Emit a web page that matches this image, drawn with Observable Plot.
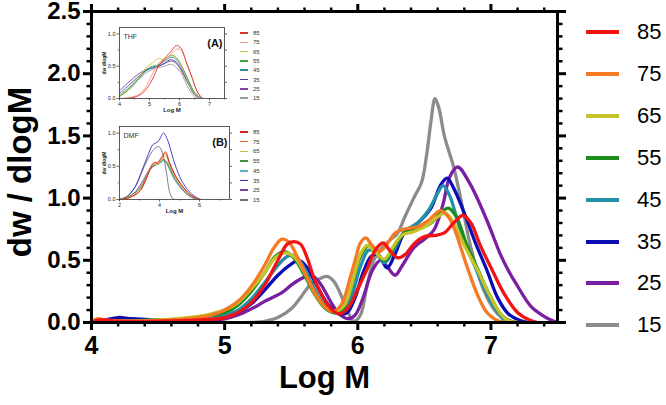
<!DOCTYPE html>
<html><head><meta charset="utf-8">
<script src="https://cdn.jsdelivr.net/npm/d3@7"></script>
<script src="https://cdn.jsdelivr.net/npm/@observablehq/plot@0.6"></script>
<style>
body{margin:0;background:#fff;font-family:"Liberation Sans",Arial,sans-serif;}
#wrap{position:relative;width:666px;height:405px;overflow:hidden;background:#fff;}
.abs{position:absolute;}
.leg{position:absolute;display:flex;align-items:center;white-space:nowrap;color:#000;}
#ytitle{position:absolute;left:19px;top:172px;transform:translate(-50%,-50%) rotate(-90deg);font-size:33px;font-weight:bold;white-space:nowrap;color:#000;line-height:1;}
</style></head><body><div id="wrap"></div>
<script>
// ---------- categories / labels ----------
const labels = ["85","75","65","55","45","35","25","15"];
const mainColors = ["#f01414","#f57a23","#c6c42a","#1c8c1c","#2290a8","#0c0cb4","#7a1fa2","#8c8c8c"];
const insetAColors = ["#e0302a","#f29a88","#c8c040","#40a040","#2a8fa0","#4848b4","#8040a8","#9a9a9a"];
const insetBColors = ["#d42020","#f06428","#c8c040","#409040","#60b0c0","#3030c0","#8040a0","#707070"];
const xTicksMain = [4,5,6,7];
const yTicksMain = [0,0.5,1.0,1.5,2.0,2.5];
const xTicksA = [4,5,6,7];
const xTicksB = [2,4,6];
const yTicksInset = [0,0.5,1.0];
const xTitle = "Log M";
const yTitle = "dw / dlogM";

// ---------- main series: [Log M, dw/dlogM] ----------
const s85 = [[4.0,0.0],[4.05,0.02],[4.1,0.02],[4.2,0.01],[4.5,0.01],[4.8,0.02],[5.0,0.04],[5.1,0.08],[5.2,0.16],[5.3,0.3],[5.4,0.5],[5.47,0.63],[5.52,0.65],[5.57,0.63],[5.62,0.52],[5.67,0.36],[5.75,0.18],[5.82,0.09],[5.87,0.07],[5.93,0.12],[6.0,0.27],[6.07,0.43],[6.13,0.58],[6.19,0.64],[6.24,0.58],[6.3,0.52],[6.36,0.55],[6.42,0.63],[6.5,0.69],[6.58,0.7],[6.65,0.72],[6.72,0.8],[6.79,0.86],[6.85,0.8],[6.92,0.62],[7.01,0.42],[7.1,0.23],[7.2,0.08],[7.29,0.02],[7.35,0.0]];
const s75 = [[4.0,0.01],[4.05,0.03],[4.1,0.02],[4.3,0.01],[4.6,0.02],[4.8,0.04],[4.9,0.06],[5.0,0.1],[5.1,0.17],[5.2,0.29],[5.3,0.46],[5.37,0.6],[5.43,0.67],[5.48,0.65],[5.55,0.52],[5.62,0.36],[5.7,0.2],[5.77,0.11],[5.82,0.09],[5.88,0.15],[5.94,0.35],[5.98,0.5],[6.02,0.64],[6.06,0.68],[6.1,0.63],[6.16,0.57],[6.22,0.63],[6.28,0.72],[6.35,0.75],[6.45,0.77],[6.53,0.82],[6.62,0.9],[6.68,0.85],[6.73,0.74],[6.78,0.58],[6.83,0.42],[6.9,0.22],[6.97,0.08],[7.04,0.02],[7.1,0.0]];
const s65 = [[4.0,0.0],[4.5,0.02],[4.8,0.05],[4.9,0.07],[5.0,0.1],[5.1,0.16],[5.2,0.27],[5.3,0.4],[5.38,0.52],[5.45,0.56],[5.52,0.53],[5.6,0.4],[5.68,0.23],[5.76,0.12],[5.83,0.09],[5.9,0.14],[5.96,0.33],[6.02,0.55],[6.07,0.62],[6.12,0.58],[6.2,0.51],[6.26,0.6],[6.33,0.7],[6.42,0.73],[6.52,0.78],[6.6,0.85],[6.66,0.88],[6.72,0.8],[6.8,0.62],[6.9,0.42],[7.0,0.2],[7.08,0.06],[7.14,0.01],[7.2,0.0]];
const s55 = [[4.0,0.0],[4.5,0.02],[4.8,0.04],[5.0,0.08],[5.1,0.14],[5.2,0.25],[5.3,0.4],[5.38,0.53],[5.45,0.57],[5.52,0.52],[5.6,0.38],[5.68,0.22],[5.76,0.11],[5.84,0.08],[5.9,0.13],[5.96,0.32],[6.02,0.53],[6.08,0.62],[6.13,0.58],[6.2,0.5],[6.27,0.6],[6.35,0.72],[6.45,0.75],[6.55,0.8],[6.62,0.88],[6.68,0.92],[6.74,0.85],[6.82,0.62],[6.9,0.43],[7.0,0.2],[7.08,0.06],[7.15,0.01],[7.2,0.0]];
const s45 = [[4.0,0.0],[4.5,0.02],[4.8,0.03],[5.0,0.06],[5.1,0.1],[5.2,0.19],[5.3,0.32],[5.4,0.46],[5.47,0.53],[5.52,0.54],[5.58,0.47],[5.66,0.3],[5.74,0.15],[5.82,0.08],[5.88,0.08],[5.95,0.2],[6.02,0.45],[6.08,0.58],[6.13,0.57],[6.2,0.48],[6.27,0.58],[6.35,0.73],[6.45,0.8],[6.53,0.9],[6.6,1.04],[6.64,1.1],[6.69,1.02],[6.76,0.78],[6.83,0.58],[6.9,0.4],[7.0,0.17],[7.09,0.03],[7.15,0.0]];
const s35 = [[4.0,0.0],[4.1,0.02],[4.2,0.04],[4.3,0.03],[4.5,0.02],[4.8,0.02],[5.0,0.05],[5.1,0.08],[5.2,0.15],[5.3,0.26],[5.4,0.38],[5.5,0.47],[5.56,0.5],[5.62,0.44],[5.7,0.28],[5.78,0.14],[5.86,0.07],[5.92,0.08],[5.98,0.2],[6.04,0.4],[6.1,0.53],[6.15,0.55],[6.22,0.44],[6.28,0.55],[6.35,0.72],[6.45,0.8],[6.55,0.92],[6.62,1.1],[6.67,1.16],[6.72,1.08],[6.8,0.88],[6.88,0.65],[6.97,0.42],[7.05,0.2],[7.13,0.07],[7.21,0.02],[7.28,0.0]];
const s25 = [[4.0,0.0],[4.5,0.01],[4.8,0.01],[5.0,0.03],[5.1,0.06],[5.22,0.12],[5.3,0.17],[5.43,0.24],[5.5,0.3],[5.57,0.35],[5.65,0.38],[5.72,0.31],[5.8,0.16],[5.87,0.06],[5.93,0.03],[5.98,0.06],[6.04,0.2],[6.11,0.42],[6.17,0.5],[6.22,0.45],[6.28,0.38],[6.33,0.45],[6.42,0.6],[6.5,0.67],[6.57,0.74],[6.64,0.95],[6.69,1.17],[6.75,1.25],[6.84,1.12],[6.97,0.82],[7.07,0.55],[7.13,0.42],[7.19,0.31],[7.3,0.13],[7.37,0.07],[7.45,0.02],[7.5,0.0]];
const s15 = [[4.0,0.0],[5.0,0.0],[5.2,0.0],[5.3,0.01],[5.4,0.04],[5.5,0.11],[5.57,0.2],[5.64,0.3],[5.71,0.35],[5.77,0.37],[5.82,0.33],[5.87,0.23],[5.92,0.1],[5.97,0.01],[6.02,0.06],[6.07,0.3],[6.12,0.5],[6.18,0.6],[6.24,0.66],[6.3,0.72],[6.35,0.84],[6.42,1.0],[6.48,1.13],[6.52,1.37],[6.55,1.62],[6.58,1.8],[6.61,1.72],[6.65,1.5],[6.72,1.25],[6.78,0.96],[6.85,0.6],[6.95,0.25],[7.05,0.07],[7.15,0.01],[7.25,0.0]];
const mainSeries = [s85,s75,s65,s55,s45,s35,s25,s15];

// ---------- inset A (THF) ----------
const a85 = [[4.0,0.0],[4.4,0.01],[4.7,0.06],[4.9,0.15],[5.1,0.3],[5.3,0.5],[5.5,0.62],[5.7,0.72],[5.9,0.82],[6.05,0.78],[6.2,0.6],[6.4,0.35],[6.55,0.15],[6.7,0.03],[6.8,0.0]];
const a75 = [[4.0,0.0],[4.4,0.02],[4.7,0.08],[4.9,0.2],[5.1,0.38],[5.3,0.55],[5.5,0.6],[5.7,0.68],[5.95,0.77],[6.1,0.72],[6.25,0.52],[6.45,0.28],[6.6,0.1],[6.75,0.01]];
const a65 = [[4.0,0.05],[4.3,0.15],[4.6,0.3],[4.9,0.48],[5.1,0.55],[5.3,0.62],[5.5,0.6],[5.7,0.66],[5.85,0.65],[6.0,0.55],[6.2,0.35],[6.4,0.15],[6.6,0.03],[6.7,0.0]];
const a55 = [[4.0,0.03],[4.3,0.13],[4.6,0.28],[4.9,0.45],[5.1,0.5],[5.3,0.52],[5.5,0.6],[5.75,0.67],[5.9,0.63],[6.1,0.48],[6.3,0.28],[6.5,0.1],[6.7,0.01]];
const a45 = [[4.0,0.05],[4.3,0.16],[4.6,0.3],[4.9,0.43],[5.1,0.48],[5.3,0.52],[5.5,0.58],[5.75,0.64],[5.9,0.6],[6.1,0.46],[6.3,0.26],[6.5,0.08],[6.7,0.01]];
const a35 = [[4.0,0.08],[4.3,0.2],[4.6,0.33],[4.9,0.44],[5.1,0.48],[5.3,0.5],[5.5,0.55],[5.7,0.6],[5.85,0.58],[6.05,0.46],[6.3,0.24],[6.5,0.07],[6.7,0.0]];
const a25 = [[4.0,0.12],[4.3,0.25],[4.6,0.37],[4.9,0.45],[5.1,0.47],[5.3,0.5],[5.5,0.54],[5.7,0.58],[5.85,0.56],[6.05,0.44],[6.3,0.22],[6.5,0.06],[6.7,0.0]];
const a15 = [[4.0,0.04],[4.3,0.14],[4.6,0.28],[4.9,0.4],[5.1,0.45],[5.3,0.48],[5.5,0.5],[5.7,0.53],[5.85,0.5],[6.05,0.4],[6.25,0.2],[6.45,0.05],[6.6,0.0]];
const insetASeries = [a85,a75,a65,a55,a45,a35,a25,a15];

// ---------- inset B (DMF) ----------
const b85 = [[2.0,0.0],[2.5,0.03],[3.0,0.12],[3.3,0.28],[3.6,0.5],[3.75,0.55],[3.9,0.55],[4.1,0.62],[4.3,0.7],[4.5,0.55],[4.8,0.35],[5.2,0.18],[5.6,0.06],[6.0,0.0]];
const b75 = [[2.0,0.0],[2.5,0.03],[3.0,0.12],[3.3,0.3],[3.6,0.52],[3.75,0.56],[3.9,0.56],[4.1,0.64],[4.3,0.72],[4.5,0.56],[4.8,0.36],[5.2,0.18],[5.6,0.06],[6.0,0.0]];
const b65 = [[2.0,0.0],[2.5,0.04],[3.0,0.14],[3.3,0.3],[3.6,0.5],[3.75,0.53],[3.9,0.53],[4.1,0.6],[4.3,0.66],[4.5,0.52],[4.8,0.33],[5.2,0.16],[5.6,0.05],[6.0,0.0]];
const b55 = [[2.0,0.0],[2.5,0.05],[3.0,0.16],[3.3,0.32],[3.6,0.48],[3.8,0.52],[4.0,0.55],[4.2,0.6],[4.4,0.55],[4.7,0.36],[5.1,0.18],[5.5,0.06],[5.9,0.0]];
const b45 = [[2.0,0.0],[2.5,0.05],[3.0,0.17],[3.3,0.32],[3.6,0.48],[3.8,0.52],[4.0,0.54],[4.2,0.58],[4.4,0.52],[4.7,0.33],[5.1,0.16],[5.5,0.05],[5.9,0.0]];
const b35 = [[2.0,0.0],[2.4,0.05],[2.8,0.2],[3.1,0.42],[3.4,0.65],[3.65,0.82],[3.8,0.85],[3.95,0.88],[4.2,1.0],[4.4,0.9],[4.7,0.6],[5.0,0.35],[5.4,0.15],[5.8,0.04],[6.1,0.0]];
const b25 = [[2.0,0.0],[2.4,0.03],[2.8,0.12],[3.2,0.3],[3.5,0.45],[3.8,0.52],[4.0,0.55],[4.2,0.6],[4.4,0.52],[4.7,0.33],[5.1,0.16],[5.5,0.05],[5.9,0.0]];
const b15 = [[2.0,0.0],[2.4,0.05],[2.8,0.2],[3.1,0.4],[3.4,0.6],[3.7,0.75],[3.95,0.8],[4.15,0.7],[4.35,0.4],[4.5,0.12],[4.65,0.02],[4.8,0.0]];
const insetBSeries = [b85,b75,b65,b55,b45,b35,b25,b15];

// ---------- helpers ----------
const FONT = '"Liberation Sans", Arial, Helvetica, sans-serif';
function toRows(series){
  const rows = [];
  for (let i = series.length - 1; i >= 0; i--) {
    for (const [x, y] of series[i]) rows.push({x, y, s: labels[i]});
  }
  return rows;
}
function minorTicks(lo, hi, step, majors){
  return d3.range(lo, hi + step/2, step).map(v => +v.toFixed(4)).filter(v => !majors.some(m => Math.abs(m - v) < 1e-6));
}
const none = () => "";
const wrap = document.getElementById("wrap");

// ---------- main chart ----------
const xMinor = minorTicks(4, 7.5, 0.2, xTicksMain);
const yMinor = minorTicks(0, 2.5, 0.1, yTicksMain);
const main = Plot.plot({
  width: 666, height: 405,
  marginLeft: 91, marginRight: 109, marginTop: 11, marginBottom: 83,
  style: {fontFamily: FONT, background: "transparent", color: "#000", overflow: "visible"},
  x: {domain: [4, 7.5]},
  y: {domain: [0, 2.5]},
  color: {domain: labels, range: mainColors},
  marks: [
    Plot.line(toRows(mainSeries), {x: "x", y: "y", z: "s", stroke: "s", strokeWidth: 3.3, curve: "catmull-rom", clip: true}),
    Plot.axisX(xTicksMain, {anchor: "bottom", tickSize: 8, strokeWidth: 3, tickPadding: 6, fontSize: 25, fontWeight: "bold", label: null, tickFormat: d => String(d)}),
    Plot.axisX(xMinor, {anchor: "bottom", tickSize: 4.5, strokeWidth: 2.5, tickFormat: none, label: null}),
    Plot.axisX(xTicksMain, {anchor: "top", tickSize: 8, strokeWidth: 3, tickFormat: none, label: null}),
    Plot.axisX(xMinor, {anchor: "top", tickSize: 4.5, strokeWidth: 2.5, tickFormat: none, label: null}),
    Plot.axisY(yTicksMain, {anchor: "left", tickSize: 8, strokeWidth: 3, tickPadding: 3, fontSize: 24, fontWeight: "bold", label: null, tickFormat: d3.format(".1f")}),
    Plot.axisY(yMinor, {anchor: "left", tickSize: 4.5, strokeWidth: 2.5, tickFormat: none, label: null}),
    Plot.axisY(yTicksMain, {anchor: "right", tickSize: 8, strokeWidth: 3, tickFormat: none, label: null}),
    Plot.axisY(yMinor, {anchor: "right", tickSize: 4.5, strokeWidth: 2.5, tickFormat: none, label: null}),
    Plot.frame({strokeWidth: 3, stroke: "#000"}),
    Plot.text([xTitle], {frameAnchor: "bottom", dy: 65, fontSize: 31, fontWeight: "bold", fill: "#000"})
  ]
});
main.classList.add("abs");
main.style.left = "0px"; main.style.top = "0px";
wrap.appendChild(main);

const yt = document.createElement("div");
yt.id = "ytitle";
yt.textContent = yTitle;
wrap.appendChild(yt);

// main legend
labels.forEach((lab, i) => {
  const d = document.createElement("div");
  d.className = "leg";
  d.style.left = "586px";
  d.style.top = (32 + 41.9 * i - 14) + "px";
  d.style.height = "28px";
  d.innerHTML = `<span style="display:inline-block;width:33px;height:4px;background:${mainColors[i]};margin-right:18px"></span><span style="font-size:22px;line-height:28px">${lab}</span>`;
  wrap.appendChild(d);
});

// ---------- insets ----------
function inset({series, colors, xDomain, xTicks, xMinorStep, left, top, plotW, plotH, solvent, tag, legTop, legStep}){
  const mL = 24, mT = 7, mR = 12, mB = 22;
  const xMin = minorTicks(xDomain[0], xDomain[1], xMinorStep, xTicks);
  const yMin = minorTicks(0, 1.1, 0.25, yTicksInset);
  const p = Plot.plot({
    width: plotW + mL + mR, height: plotH + mT + mB,
    marginLeft: mL, marginRight: mR, marginTop: mT, marginBottom: mB,
    style: {fontFamily: FONT, background: "transparent", color: "#222", overflow: "visible"},
    x: {domain: xDomain},
    y: {domain: [0, 1.1]},
    color: {domain: labels, range: colors},
    marks: [
      Plot.line(toRows(series), {x: "x", y: "y", z: "s", stroke: "s", strokeWidth: 0.9, curve: "catmull-rom", clip: true}),
      Plot.axisX(xTicks, {anchor: "bottom", tickSize: 2.5, strokeWidth: 0.7, tickPadding: 1.5, fontSize: 5.5, label: null, tickFormat: d => String(d)}),
      Plot.axisX(xMin, {anchor: "bottom", tickSize: 1.5, strokeWidth: 0.6, tickFormat: none, label: null}),
      Plot.axisY(yTicksInset, {anchor: "left", tickSize: 2.5, strokeWidth: 0.7, tickPadding: 1.5, fontSize: 5.5, label: null, tickFormat: d3.format(".1f")}),
      Plot.axisY(yMin, {anchor: "left", tickSize: 1.5, strokeWidth: 0.6, tickFormat: none, label: null}),
      Plot.axisY([...yTicksInset, ...yMin], {anchor: "right", tickSize: 2, strokeWidth: 0.7, tickFormat: none, label: null}),
      Plot.frame({strokeWidth: 0.8, stroke: "#333"}),
      Plot.text([solvent], {frameAnchor: "top-left", dx: 4, dy: 7, fontSize: 7, fill: "#333", textAnchor: "start"}),
      Plot.text([tag], {frameAnchor: "top-right", dx: -2, dy: 12, fontSize: 11, fontWeight: "bold", fill: "#111", textAnchor: "end"}),
      Plot.text(["Log M"], {frameAnchor: "bottom", dy: 13, fontSize: 6, fontWeight: "bold", fill: "#222"})
    ]
  });
  p.classList.add("abs");
  p.style.left = (left - mL) + "px";
  p.style.top = (top - mT) + "px";
  wrap.appendChild(p);
  const t = document.createElement("div");
  t.className = "abs";
  t.style.cssText = `left:${left - 15}px;top:${top + plotH / 2}px;transform:translate(-50%,-50%) rotate(-90deg);font-size:5px;font-weight:bold;color:#222;white-space:nowrap;line-height:1;`;
  t.textContent = "dw dlogM";
  wrap.appendChild(t);
  labels.forEach((lab, i) => {
    const d = document.createElement("div");
    d.className = "leg";
    d.style.left = "240px";
    d.style.top = (legTop + legStep * i - 4) + "px";
    d.style.height = "8px";
    d.innerHTML = `<span style="display:inline-block;width:8px;height:1.5px;background:${colors[i]};margin-right:5px"></span><span style="font-size:6px;line-height:8px;color:#333">${lab}</span>`;
    wrap.appendChild(d);
  });
}
inset({series: insetASeries, colors: insetAColors, xDomain: [4, 7.5], xTicks: xTicksA, xMinorStep: 0.5,
  left: 119, top: 27, plotW: 105, plotH: 71, solvent: "THF", tag: "(A)", legTop: 33, legStep: 9.3});
inset({series: insetBSeries, colors: insetBColors, xDomain: [2, 7.5], xTicks: xTicksB, xMinorStep: 1,
  left: 119, top: 126, plotW: 110, plotH: 73, solvent: "DMF", tag: "(B)", legTop: 132, legStep: 9.7});
</script>
</body></html>
